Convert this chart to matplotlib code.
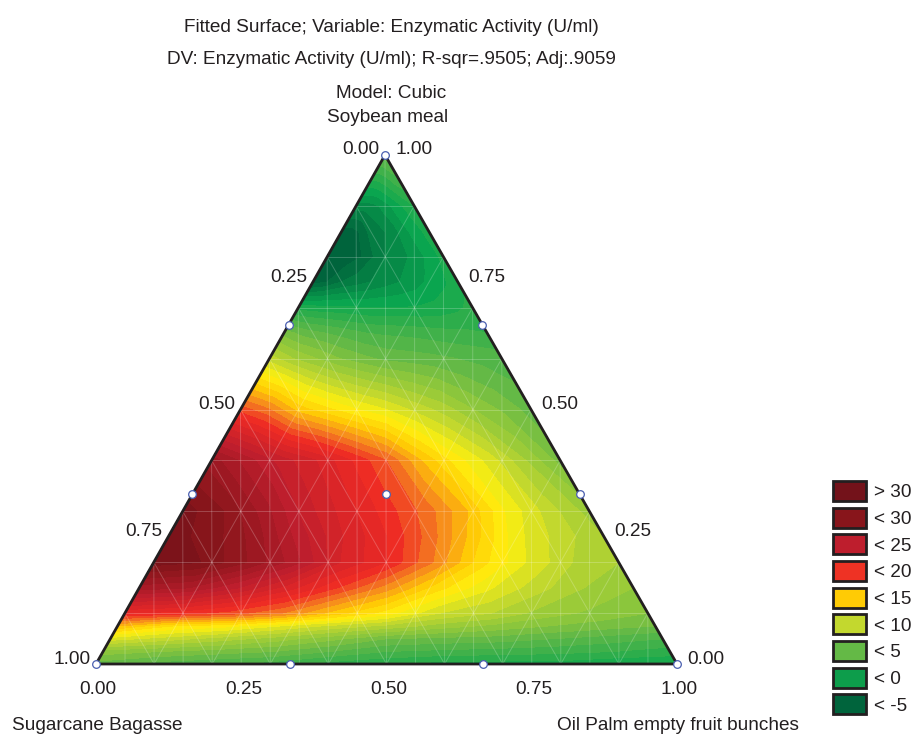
import numpy as np
import matplotlib
matplotlib.use('Agg')
import matplotlib.pyplot as plt
from matplotlib.colors import LinearSegmentedColormap
from matplotlib.patches import Patch

plt.rcParams['font.family'] = ['Liberation Sans', 'DejaVu Sans']

# fraction of the way up to the Soybean meal corner, for each row of fitted values
row_h = [0, .025, .05, .075, .1, .15, .2, .25, .3, .4, .5, .6, .65, .7, .75, .8, .85, .9, .95, 1]
# position along each row, from left side to right side
col_u = [0, .1, .2, .3, .4, .5, .6, .7, .8, .9, 1]

activity = [
    [5, 4, 3.5, 3, 2, 1.5, 1, 1, 1, .5, .5],
    [7, 6.5, 6, 5.5, 4.5, 3.5, 3.2, 3, 2.8, 2.5, 2],
    [11, 10, 9, 8, 6.8, 5.5, 5.2, 5, 4.5, 4, 3.5],
    [15.5, 13.5, 12.8, 11.5, 10.2, 9.2, 8, 7.2, 6.5, 6, 5.5],
    [20.5, 20, 19, 17.5, 15, 13, 10.5, 9.5, 8, 7.2, 6.5],
    [27, 26.5, 24.5, 22, 19.5, 17, 14, 11.8, 10, 8.5, 7.5],
    [31, 30.5, 28.5, 26, 22.5, 20.5, 17.5, 14, 11.5, 9.5, 8.5],
    [31, 30, 28, 25, 22.5, 20.5, 18, 15, 11.8, 10, 8.5],
    [31, 29.5, 27, 24, 22, 20, 18, 15.5, 12.2, 10, 8],
    [28, 26, 24, 22.5, 20.5, 18.5, 15.5, 13, 11, 8.5, 6],
    [19, 17.5, 15, 13.7, 12.5, 11.5, 10.2, 9, 7.5, 6.3, 5],
    [10, 8.5, 7.5, 6.5, 5.8, 5.2, 5, 4.8, 4.5, 4.2, 4],
    [6, 5, 4.5, 4, 3.5, 3.3, 3.2, 3, 2.8, 2.7, 2.5],
    [1, .8, .7, .6, .5, .5, .5, .6, .8, 1.2, 1.8],
    [-5, -4.5, -3.5, -3, -2.5, -2, -1.5, -1, -.3, .3, 1.2],
    [-5.5, -5.5, -5, -4.5, -3.5, -2.5, -2, -1.5, -.8, 0, .8],
    [-5, -5, -4.5, -3.5, -3, -2.5, -2, -1, -.3, .3, 1],
    [-2, -2, -2, -1.8, -1.5, -1, -.5, 0, .5, 1, 1.5],
    [1.5, 1.5, 1.5, 1.6, 1.8, 2, 2.2, 2.5, 2.8, 3, 3],
    [5, 5, 5, 5, 5, 5, 5, 5, 5, 5, 5],
]

# design points (sugarcane, oil palm, soybean)
design_a = [1, 0, 0, 2/3, 1/3, 2/3, 0, 1/3, 0, 1/3]
design_b = [0, 1, 0, 1/3, 2/3, 0, 2/3, 0, 1/3, 1/3]
design_c = [0, 0, 1, 0, 0, 1/3, 1/3, 2/3, 2/3, 1/3]

tick_vals = [0, .25, .5, .75, 1]

legend_labels = ['> 30', '< 30', '< 25', '< 20', '< 15', '< 10', '< 5', '< 0', '< -5']
legend_colors = ['#73121a', '#88151b', '#be1e2d', '#ee3224', '#ffcb05',
                 '#c3d82e', '#64b946', '#0d9d4b', '#00643c']

# value -> colour stops of the fitted surface
stop_vals = [-5, 0, 5, 10, 12.5, 15, 17.5, 20, 25, 30, 32]
stop_cols = ['#00643c', '#0aa64f', '#64b946', '#c3d82e', '#fff00f',
             '#ffcb05', '#f58220', '#ee2a24', '#be1e2d', '#88151b', '#73121a']

LEFT, RIGHT, TOP = (96, 664), (677, 664), (385, 155)


def ternary(a, b, c):
    a, b, c = np.asarray(a, float), np.asarray(b, float), np.asarray(c, float)
    return (a*LEFT[0] + b*RIGHT[0] + c*TOP[0],
            a*LEFT[1] + b*RIGHT[1] + c*TOP[1])


fig = plt.figure(figsize=(9.14, 7.36), dpi=100)
ax = fig.add_axes([0, 0, 1, 1])
ax.set_xlim(0, 914)
ax.set_ylim(736, 0)
ax.axis('off')

# surface
hh, uu = np.meshgrid(row_h, col_u, indexing='ij')
X, Y = ternary((1 - hh)*(1 - uu), (1 - hh)*uu, hh)
lo, hi = stop_vals[0], stop_vals[-1]
cmap = LinearSegmentedColormap.from_list(
    'activity', [((v - lo)/(hi - lo), c) for v, c in zip(stop_vals, stop_cols)])
levels = np.arange(-5.5, 32.5, 1)
cs = ax.contourf(X, Y, np.array(activity), levels=levels, cmap=cmap,
                 vmin=lo, vmax=hi, extend='both')
cs.set_edgecolor('face')
cs.set_linewidth(0.3)

# faint mesh lines
grid_kw = dict(color='white', lw=0.7, alpha=0.22, zorder=3)
for t in np.arange(.1, 1, .1):
    x, y = ternary([1 - t, 0], [0, 1 - t], [t, t])
    ax.plot(x, y, **grid_kw)
    x, y = ternary([t, t], [1 - t, 0], [0, 1 - t])
    ax.plot(x, y, **grid_kw)
    x, y = ternary([0, 1 - t], [t, t], [1 - t, 0])
    ax.plot(x, y, **grid_kw)
for t in np.arange(.05, 1, .05):
    c = 1 - abs(2*t - 1)
    x, y = ternary([1 - t, 1 - t - c/2], [t, t - c/2], [0, c])
    ax.plot(x, y, **grid_kw)

# frame
x, y = ternary([1, 0, 0, 1], [0, 1, 0, 0], [0, 0, 1, 0])
ax.plot(x, y, color='#231f20', lw=2, zorder=4, solid_joinstyle='miter')

# design points
x, y = ternary(design_a, design_b, design_c)
ax.plot(x, y, 'o', ms=5.5, mfc='white', mec='#4a5fb0', mew=0.9, ls='none',
        zorder=5, clip_on=False)

# tick labels
txt = dict(fontsize=13.7, color='#231f20', ha='center', va='center')
for v in tick_vals:
    x, y = ternary([v], [0], [1 - v])
    ax.text(x[0] - 24, y[0] - 5, f'{v:.2f}', **txt)
    x, y = ternary([0], [1 - v], [v])
    ax.text(x[0] + 29, y[0] - 5, f'{v:.2f}', **txt)
    x, y = ternary([1 - v], [v], [0])
    ax.text(x[0] + 2, 689, f'{v:.2f}', **txt)

# titles
ax.text(391, 27, 'Fitted Surface; Variable: Enzymatic Activity (U/ml)', **txt)
ax.text(391, 59, 'DV: Enzymatic Activity (U/ml); R-sqr=.9505; Adj:.9059', **txt)
ax.text(391, 93, 'Model: Cubic', **txt)
ax.text(388, 118, 'Soybean meal', **txt)
ax.text(97, 725, 'Sugarcane Bagasse', **txt)
ax.text(678, 726, 'Oil Palm empty fruit bunches', **txt)

handles = [Patch(facecolor=c, edgecolor='#231f20', lw=2) for c in legend_colors]
ax.legend(handles, legend_labels, loc='upper left', bbox_to_anchor=(833, 481),
          bbox_transform=ax.transData, frameon=False, fontsize=13.7, borderpad=0,
          borderaxespad=0, handlelength=1.75, handleheight=1.24, labelspacing=0.33,
          handletextpad=0.38, labelcolor='#231f20')

fig.savefig('out.png', dpi=100)
